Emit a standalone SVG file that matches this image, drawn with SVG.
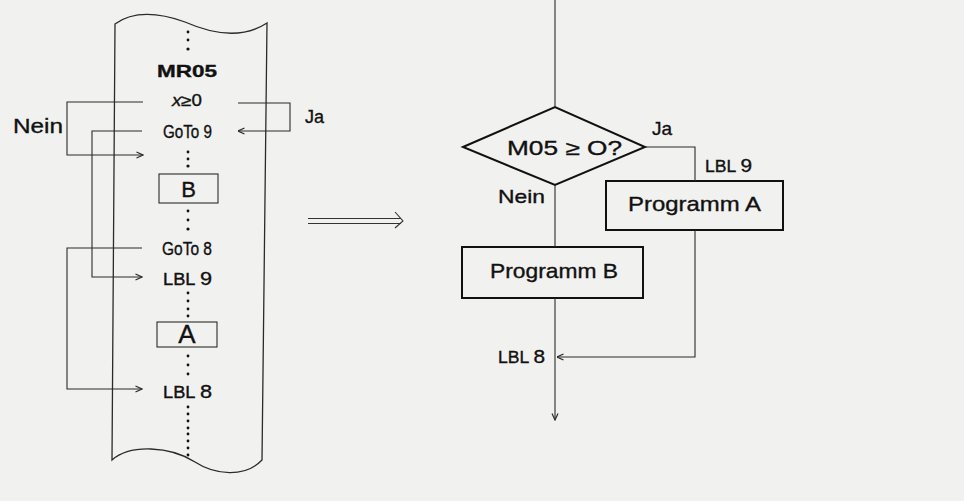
<svg xmlns="http://www.w3.org/2000/svg" width="964" height="501" viewBox="0 0 964 501">
<defs>
<style>
.bg{fill:#f1f1f0}
.ln{fill:none;stroke:#2a2a2a;stroke-width:1.1}
.tape{fill:none;stroke:#2a2a2a;stroke-width:1.3}
.box{fill:none;stroke:#111;stroke-width:2}
.t{font-family:"Liberation Sans",Arial,sans-serif;fill:#111;stroke:#111;stroke-width:0.35}
.dg{font-size:19px}
.dot{fill:#111}
</style>
<marker id="ah" viewBox="0 0 8 8" refX="7.5" refY="4" markerWidth="8" markerHeight="8" markerUnits="userSpaceOnUse" orient="auto">
<path d="M1,1 L7.5,4 L1,7" fill="none" stroke="#2a2a2a" stroke-width="1.2"/>
</marker>
</defs>
<rect class="bg" x="0" y="0" width="964" height="501"/>

<g id="tape">
<path class="tape" d="M115,24 Q140,6 185,22 Q235,44 267,23 L262,460 C245,478 215,475 195,462 C170,446 130,444 112,460 Z"/>
<g class="dot">
<circle cx="188" cy="32" r="1.4"/><circle cx="188" cy="40" r="1.4"/><circle cx="188" cy="49" r="1.6"/>
<circle cx="188" cy="152" r="1.4"/><circle cx="188" cy="159" r="1.4"/><circle cx="188" cy="166" r="1.6"/>
<circle cx="188" cy="211" r="1.4"/><circle cx="188" cy="220" r="1.4"/><circle cx="188" cy="229" r="1.6"/>
<circle cx="188" cy="293" r="1.4"/><circle cx="188" cy="301" r="1.4"/><circle cx="188" cy="309" r="1.4"/><circle cx="188" cy="316" r="1.4"/>
<circle cx="188" cy="356" r="1.4"/><circle cx="188" cy="365" r="1.4"/><circle cx="188" cy="374" r="1.4"/>
<circle cx="188" cy="407" r="1.4"/><circle cx="188" cy="414" r="1.4"/><circle cx="188" cy="421" r="1.4"/><circle cx="188" cy="428" r="1.4"/><circle cx="188" cy="434" r="1.4"/><circle cx="188" cy="441" r="1.4"/><circle cx="188" cy="448" r="1.4"/><circle cx="188" cy="455" r="1.4"/>
</g>
</g>

<g id="mr05"><text class="t" x="157" y="77" font-size="17" font-weight="bold" textLength="60" lengthAdjust="spacingAndGlyphs">MR05</text></g>
<g id="cond"><text class="t" x="172" y="106" font-size="16" textLength="30" lengthAdjust="spacingAndGlyphs"><tspan font-style="italic">x</tspan>≥0</text></g>
<g id="goto9"><text class="t" x="163" y="138" font-size="18" textLength="49" lengthAdjust="spacingAndGlyphs">GoTo 9</text></g>
<g id="boxB"><rect class="ln" x="159" y="174" width="59" height="29"/><text class="t" x="188.5" y="197" font-size="22" text-anchor="middle" stroke-width="0.1">B</text></g>
<g id="goto8"><text class="t" x="162" y="255" font-size="18" textLength="50" lengthAdjust="spacingAndGlyphs">GoTo 8</text></g>
<g id="lbl9l"><text class="t" x="163" y="285" font-size="16" textLength="49" lengthAdjust="spacingAndGlyphs">LBL <tspan class="dg">9</tspan></text></g>
<g id="boxA"><rect class="ln" x="157" y="322" width="60" height="25"/><text class="t" x="187" y="343" font-size="26" text-anchor="middle" stroke-width="0.1">A</text></g>
<g id="lbl8l"><text class="t" x="163" y="398" font-size="16" textLength="49" lengthAdjust="spacingAndGlyphs">LBL <tspan class="dg">8</tspan></text></g>
<g id="neinL"><text class="t" x="13" y="133" font-size="20" textLength="50" lengthAdjust="spacingAndGlyphs">Nein</text></g>
<g id="jaL"><text class="t" x="305" y="123" font-size="18">Ja</text></g>

<g id="d"><path d="M463,147 L555,107 L645,147 L555,185 Z" fill="none" stroke="#111" stroke-width="2"/><text class="t" x="507" y="155" font-size="20" textLength="115" lengthAdjust="spacingAndGlyphs">M05 ≥ O?</text></g>
<g id="progA"><rect class="box" x="606" y="181" width="177" height="49"/><text class="t" x="628" y="211" font-size="21" textLength="133" lengthAdjust="spacingAndGlyphs">Programm A</text></g>
<g id="progB"><rect class="box" x="462" y="247" width="181" height="51"/><text class="t" x="490" y="278" font-size="21" textLength="128" lengthAdjust="spacingAndGlyphs">Programm B</text></g>
<g id="jaR"><text class="t" x="652" y="135" font-size="19">Ja</text></g>
<g id="neinR"><text class="t" x="498" y="203" font-size="19" textLength="47" lengthAdjust="spacingAndGlyphs">Nein</text></g>
<g id="lbl9r"><text class="t" x="705" y="172" font-size="16" textLength="47" lengthAdjust="spacingAndGlyphs">LBL <tspan class="dg">9</tspan></text></g>
<g id="lbl8r"><text class="t" x="498" y="363" font-size="16" textLength="47" lengthAdjust="spacingAndGlyphs">LBL <tspan class="dg">8</tspan></text></g>

<g id="connectors">
<polyline class="ln" points="143,102 67,102 67,155 143,155" marker-end="url(#ah)"/>
<polyline class="ln" points="238,103 290,103 290,131 238,131" marker-end="url(#ah)"/>
<polyline class="ln" points="142,131 92,131 92,277 142,277" marker-end="url(#ah)"/>
<polyline class="ln" points="142,248 67,248 67,389 142,389" marker-end="url(#ah)"/>
<line class="ln" x1="555" y1="0" x2="555" y2="107"/>
<polyline class="ln" points="645,147 695,147 695,181"/>
<line class="ln" x1="555" y1="185" x2="555" y2="247"/>
<line class="ln" x1="555" y1="298" x2="555" y2="420" marker-end="url(#ah)"/>
<polyline class="ln" points="695,230 695,357 557,357" marker-end="url(#ah)"/>
<g id="bigarrow" fill="none" stroke="#333" stroke-width="1.1">
<line x1="308" y1="218.5" x2="401" y2="218.5"/>
<line x1="308" y1="223.5" x2="401" y2="223.5"/>
<polyline points="395,212 403,221 395,228"/>
</g>
</g>
</svg>
